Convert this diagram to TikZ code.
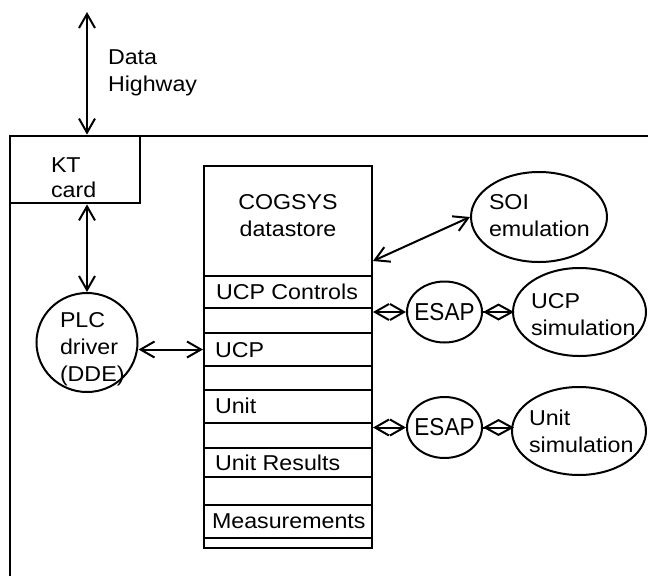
\documentclass[tikz,border=0pt]{standalone}
\usepackage{fontspec}
\setmainfont{Liberation Sans}[FakeStretch=1.08]
\newfontfamily\esapfamily{Liberation Sans}[FakeStretch=0.92]
\usetikzlibrary{arrows.meta,shapes.geometric}

\begin{document}
\begin{tikzpicture}[x=1pt,y=-1pt,
  line width=2pt,
  lbl/.style={inner sep=0pt, anchor=base west, align=left,
              font=\fontsize{21.5}{27}\selectfont},
  cell/.style={draw, rectangle, minimum width=168pt, inner sep=0pt},
  blob/.style={draw, ellipse, inner sep=0pt},
  esaptext/.style={inner sep=0pt, font=\esapfamily\fontsize{24.5}{27}\selectfont},
  dbl/.style={{Straight Barb[length=14pt,width=16pt]}-{Straight Barb[length=14pt,width=16pt]}},
  link/.style={{Diamond[open,length=31pt,width=17pt]}-}
]
\useasboundingbox (0,0) rectangle (648,576);

% enclosing system frame
\draw (648,136) -- (10,136) -- (10,576);

% KT card
\node[draw, line width=2.8pt, rectangle, minimum width=130pt, minimum height=67pt,
      inner sep=0pt] (kt) at (75,169.5) {};
% (the base anchor of a multi-line label sits on its last line)
\node[lbl, font=\fontsize{21.5}{25}\selectfont] (kttext) at (50,197) {KT\\card};

% data highway
\coordinate (hwytop) at (87,12);
\draw[dbl] (hwytop) -- (hwytop |- kt.north);
\node[lbl] (hwytext) at (107,91) {Data\\Highway};

% PLC driver
\node[blob, minimum width=101pt, minimum height=99pt] (plc) at (87,342.5) {};
\node[lbl] (plctext) at (59,381) {PLC\\driver\\(DDE)};
\draw[dbl] (hwytop |- kt.south) -- (plc.north);

% COGSYS datastore, stacked cells
\node[cell, minimum height=110pt] (hdr) at (288,221) {};
\node[cell, minimum height=32pt] (r1) at (288,292) {};
\node[cell, minimum height=25pt] (g1) at (288,320.5) {};
\node[cell, minimum height=33pt] (r2) at (288,349.5) {};
\node[cell, minimum height=24pt] (g2) at (288,378) {};
\node[cell, minimum height=33pt] (r3) at (288,406.5) {};
\node[cell, minimum height=25pt] (g3) at (288,435.5) {};
\node[cell, minimum height=29pt] (r4) at (288,462.5) {};
\node[cell, minimum height=28pt] (g4) at (288,491) {};
\node[cell, minimum height=33pt] (r5) at (288,521.5) {};
\node[cell, minimum height=10pt] (g5) at (288,543) {};

\node[lbl, anchor=base, align=center] (hdrtext) at (288,236) {COGSYS\\datastore};
\node[lbl] (r1text) at (215,299) {UCP Controls};
\node[lbl] (r2text) at (214,357) {UCP};
\node[lbl] (r3text) at (214,413) {Unit};
\node[lbl] (r4text) at (214,470) {Unit Results};
\node[lbl] (r5text) at (211,528) {Measurements};

% PLC driver <-> UCP cell
\draw[dbl] (plc.east |- r2.west) -- (r2.west);

% SOI emulation
\node[blob, minimum width=136pt, minimum height=90pt] (soi) at (539,217) {};
\node[lbl] (soitext) at (488,236) {SOI\\emulation};
\coordinate (soiport) at ([yshift=16pt]hdr.south east);
\draw[dbl] (soiport) -- (soi.west);

% ESAP agents
\node[blob, minimum width=75pt, minimum height=61pt,
      label={[esaptext]center:ESAP}] (esap1) at (444.5,312) {};
\node[blob, minimum width=75pt, minimum height=61pt,
      label={[esaptext]center:ESAP}] (esap2) at (444.5,427.5) {};
\draw[dbl] (esap1.west -| hdr.east) -- (esap1.west);
\draw[dbl] (esap2.west -| hdr.east) -- (esap2.west);

% simulations
\node[blob, minimum width=133pt, minimum height=88pt] (ucpsim) at (579.5,312) {};
\node[lbl] (ucpsimtext) at (530,335) {UCP\\simulation};
\node[blob, minimum width=134pt, minimum height=88pt] (unitsim) at (579,431) {};
\node[lbl] (unitsimtext) at (528,452) {Unit\\simulation};

% ESAP <-> simulation links
\draw (esap1.east) -- (ucpsim.west);
\draw[link] (esap1.east) -- (ucpsim.west);
\draw (esap2.east) -- (unitsim.west |- esap2.east);
\draw[link] (esap2.east) -- (unitsim.west |- esap2.east);
\end{tikzpicture}
\end{document}
